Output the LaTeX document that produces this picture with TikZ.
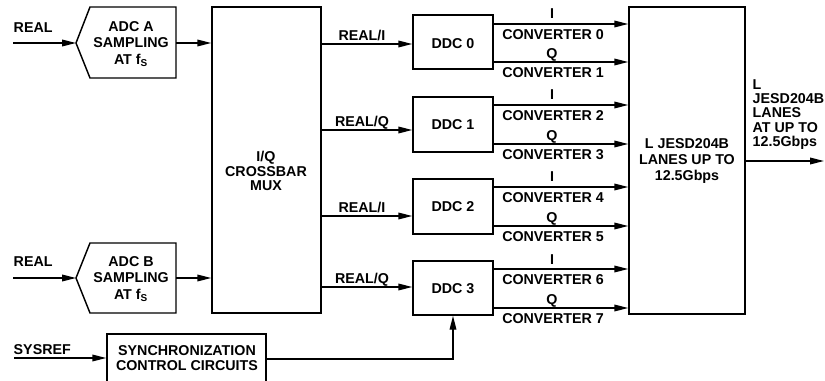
\documentclass[tikz,border=0pt]{standalone}
\usepackage{fontspec}
\setmainfont{Liberation Sans}
\usetikzlibrary{arrows.meta,fit}
\begin{document}
\begin{tikzpicture}[x=0.75pt,y=-0.75pt,line width=1.1pt,
  every node/.style={inner sep=0pt, font=\fontsize{10.7}{12}\selectfont\bfseries},
  arr/.style={-{Triangle[length=10.5pt,width=5pt]}},
  box/.style={draw, inner sep=0pt, line width=1.1pt},
]
\useasboundingbox (0,0) rectangle (825,381);
\clip (0,0) rectangle (825,381);

% ---------- ADC A ----------
\draw (90,7) -- (176,7) -- (176,78) -- (90,78) -- (76,43) -- cycle;
\node[align=center, font=\fontsize{10.7}{12.5}\selectfont\bfseries] (adca) at (131,44) {ADC A\\SAMPLING\\AT f\textsubscript{S}};
\coordinate (adcaIn) at (76,43);
\coordinate (adcaOut) at (176,43);
\coordinate (realA) at (13,43);
\node[anchor=base west] (reallblA) at (13,33) {REAL};
\draw[arr] (realA) -- (adcaIn);

% ---------- ADC B ----------
\draw (90,243) -- (176,243) -- (176,313) -- (90,313) -- (76,278) -- cycle;
\node[align=center, font=\fontsize{10.7}{12.5}\selectfont\bfseries] (adcb) at (131,279) {ADC B\\SAMPLING\\AT f\textsubscript{S}};
\coordinate (adcbIn) at (76,278);
\coordinate (adcbOut) at (176,278);
\coordinate (realB) at (13,278);
\node[anchor=base west] (reallblB) at (13,267) {REAL};
\draw[arr] (realB) -- (adcbIn);

% ---------- Crossbar ----------
\node[box, fit={(212,7) (321,313)}] (xbar) {};
\node[align=center, font=\fontsize{10.7}{10.9}\selectfont\bfseries] (xbartxt) at (266,171) {I/Q\\CROSSBAR\\MUX};
\draw[arr] (adcaOut) -- (xbar.west |- adcaOut);
\draw[arr] (adcbOut) -- (xbar.west |- adcbOut);

% ---------- DDCs ----------
\node[box, fit={(413,15) (493,69)}] (ddc0) {};
\node[box, fit={(413,97) (493,152)}] (ddc1) {};
\node[box, fit={(413,179) (493,234)}] (ddc2) {};
\node[box, fit={(413,261) (493,315)}] (ddc3) {};
\node (ddc0t) at (453,44) {DDC 0};
\node (ddc1t) at (453,125) {DDC 1};
\node (ddc2t) at (453,207) {DDC 2};
\node (ddc3t) at (453,289) {DDC 3};

% crossbar -> DDC
\foreach \k/\y/\t in {0/44/REAL\slash I,1/130/REAL\slash Q,2/216/REAL\slash I,3/287/REAL\slash Q}{
  \coordinate (xo\k) at (321,\y);
  \draw[arr] (xo\k) -- (ddc\k.west |- xo\k);
  \node[anchor=base] (xl\k) at (362,\y-3.5) {\t};
}

% ---------- JESD ----------
\node[box, fit={(629,7) (745,314)}] (jesd) {};
\node[align=center, font=\fontsize{10.7}{12}\selectfont\bfseries] (jesdt) at (687,161) {L JESD204B\\LANES UP TO\\12.5Gbps};

% DDC -> JESD
\foreach \k/\yi/\yq/\ci/\cq in {0/24/62/0/1,1/105/144/2/3,2/187/226/4/5,3/269/308/6/7}{
  \coordinate (ci\k) at (552,\yi);
  \coordinate (cq\k) at (552,\yq);
  \draw[arr] (ddc\k.east |- ci\k) -- (jesd.west |- ci\k);
  \draw[arr] (ddc\k.east |- cq\k) -- (jesd.west |- cq\k);
  \node[anchor=base] (il\k) at (552,\yi-5) {I};
  \node[anchor=base] (ql\k) at (552,\yq-3.5) {Q};
  \node[anchor=north] (cil\k) at (553,\yi+5) {CONVERTER \ci};
  \node[anchor=north] (cql\k) at (553,\yq+5) {CONVERTER \cq};
}

% JESD output
\coordinate (jout) at (824,161);
\draw[arr] (jesd.east |- jout) -- (jout);
\node[anchor=west, align=left, font=\fontsize{10.7}{10.7}\selectfont\bfseries] (joutl) at (752,114.5) {L\\JESD204B\\LANES\\AT UP TO\\12.5Gbps};

% ---------- Sync ----------
\node[box, fit={(107,334) (266,395)}] (sync) {};
\node[align=center, font=\fontsize{10.7}{10.9}\selectfont\bfseries] (synct) at (187,358) {SYNCHRONIZATION\\CONTROL CIRCUITS};
\coordinate (sysin) at (14,358);
\node[anchor=base west] (syslbl) at (13,354) {SYSREF};
\draw[arr] (sysin) -- (sync.west |- sysin);
\coordinate (bend) at (453,359);
\draw[arr] (sync.east |- bend) -- (bend) -- (ddc3.south);
\end{tikzpicture}
\end{document}
